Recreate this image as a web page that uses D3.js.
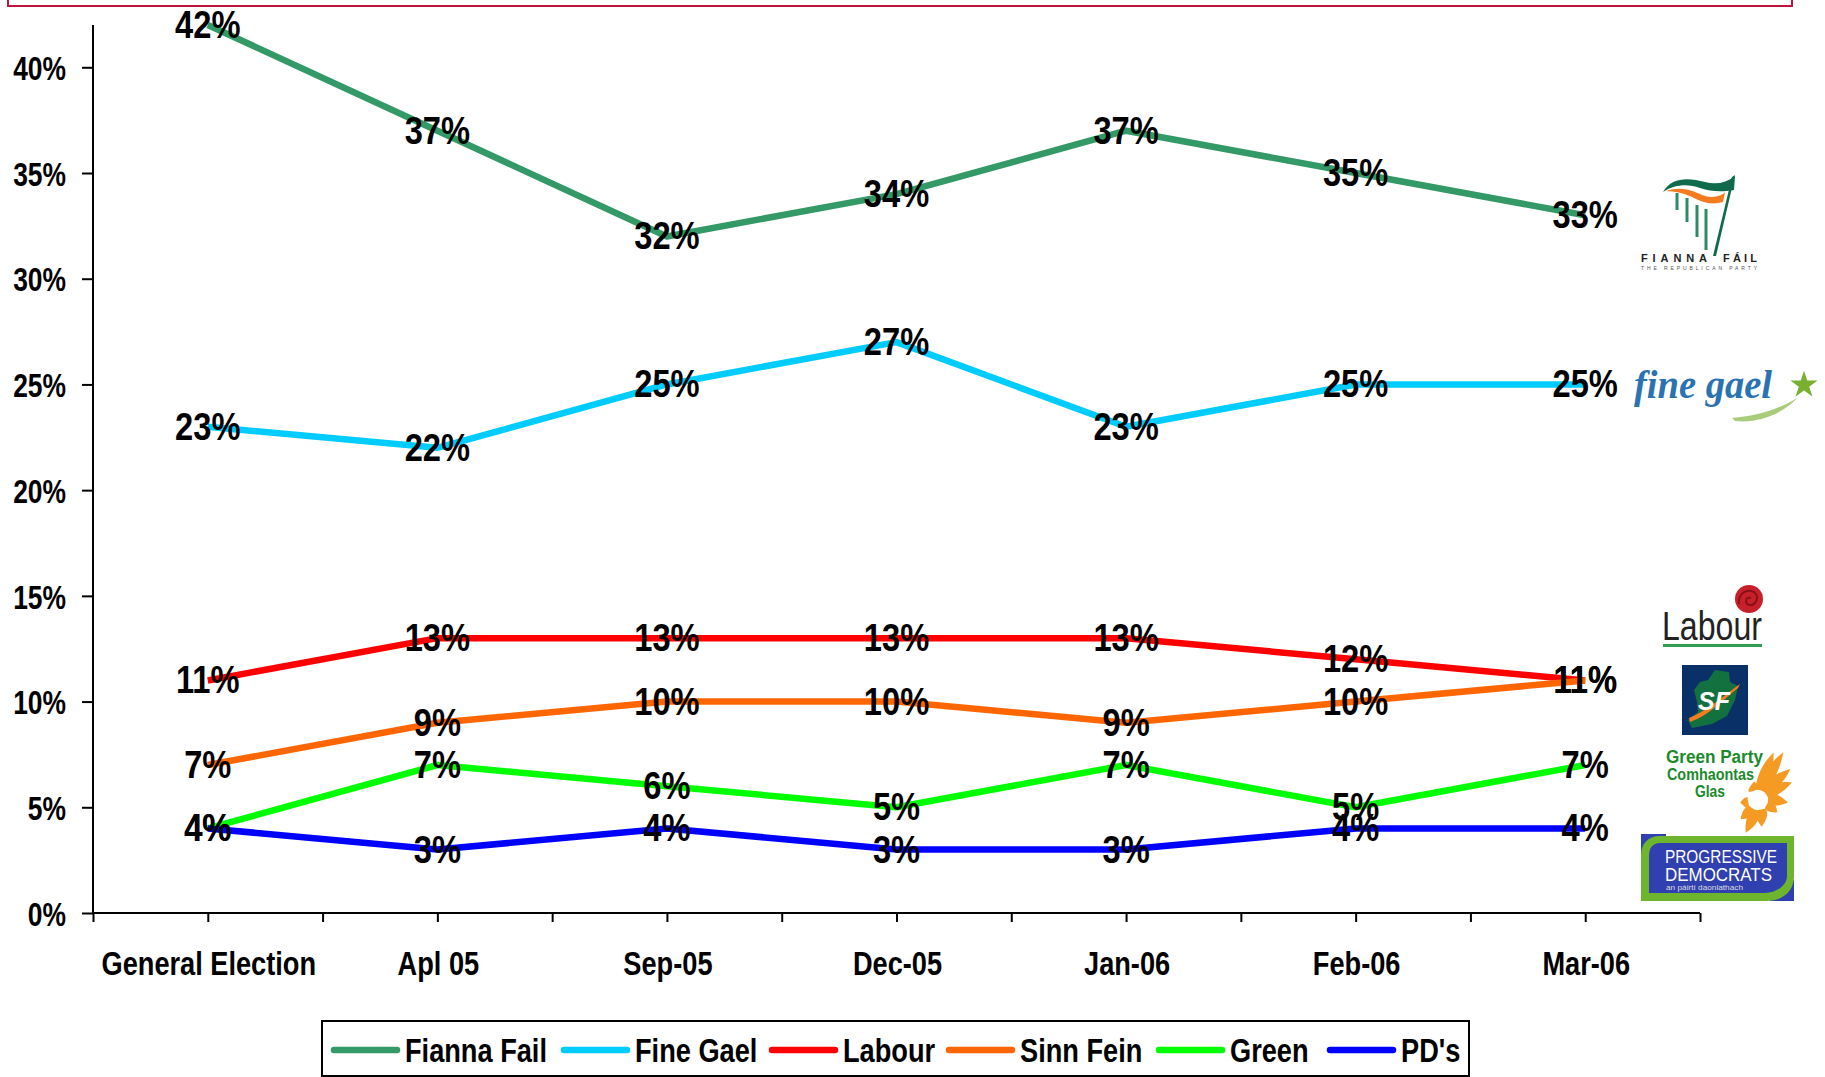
<!DOCTYPE html>
<html>
<head>
<meta charset="utf-8">
<script src="https://cdn.jsdelivr.net/npm/d3@7"></script>
<style>
  html, body { margin: 0; padding: 0; background: #fff; }
  svg { display: block; }
  text { font-family: "Liberation Sans", sans-serif; font-weight: bold; fill: #000; }
  .logo text { font-weight: normal; }
</style>
</head>
<body>
<svg id="chart" width="1825" height="1077"></svg>
<script>
const categories = ["General Election", "Apl 05", "Sep-05", "Dec-05", "Jan-06", "Feb-06", "Mar-06"];
const yTicks = [0, 5, 10, 15, 20, 25, 30, 35, 40];

const seriesNames = ["Fianna Fail", "Fine Gael", "Labour", "Sinn Fein", "Green", "PD's"];
const seriesColors = ["#339966", "#00ccff", "#ff0000", "#ff6600", "#00ff00", "#0000ff"];

const fiannaFail = [42, 37, 32, 34, 37, 35, 33];
const fineGael = [23, 22, 25, 27, 23, 25, 25];
const labour = [11, 13, 13, 13, 13, 12, 11];
const sinnFein = [7, 9, 10, 10, 9, 10, 11];
const green = [4, 7, 6, 5, 7, 5, 7];
const pds = [4, 3, 4, 3, 3, 4, 4];
const seriesValues = [fiannaFail, fineGael, labour, sinnFein, green, pds];

const svg = d3.select("#chart");
const padding = { left: 93, right: 1700, top: 25, bottom: 913 };

// no narrow font installed, so squeeze the text horizontally around its anchor
function condense(selection, sx) {
  selection.each(function () {
    const t = d3.select(this);
    const x = +t.attr("x") || 0;
    const y = +t.attr("y") || 0;
    t.attr("x", 0).attr("y", 0).attr("transform", `translate(${x}, ${y}) scale(${sx}, 1)`);
  });
}

// frame left over from the slide, only its bottom edge is in view
svg.append("rect")
  .attr("x", 8).attr("y", -20).attr("width", 1784).attr("height", 26)
  .attr("fill", "none").attr("stroke", "#c0143c").attr("stroke-width", 2);

const xScale = d3.scaleBand().domain(categories).range([padding.left, padding.right]).paddingInner(0).paddingOuter(0);
const xTickScale = d3.scaleLinear().domain([0, categories.length]).range([padding.left, padding.right]);
const yScale = d3.scaleLinear().domain([0, 42]).range([padding.bottom, padding.top]);
const xCenter = (i) => xScale(categories[i]) + xScale.bandwidth() / 2;

// y-axis
const yAxis = svg.append("g")
  .attr("transform", `translate(${padding.left}, 0)`)
  .call(d3.axisLeft(yScale).tickValues(yTicks).tickSize(11).tickPadding(16).tickFormat((d) => d + "%"));
yAxis.select(".domain").attr("stroke", "#000").attr("stroke-width", 2).attr("d", `M0,${padding.top}V${padding.bottom}`);
yAxis.selectAll("line").attr("stroke", "#000").attr("stroke-width", 2);
yAxis.selectAll("text").attr("font-size", 33).attr("dy", "0.37em").call(condense, 0.8);

// x-axis: tick marks every half category, labels from the band scale
const xAxis = svg.append("g")
  .attr("transform", `translate(0, ${padding.bottom})`)
  .call(d3.axisBottom(xTickScale).tickValues(d3.range(0, categories.length + 0.5, 0.5)).tickSize(9).tickFormat(""));
xAxis.select(".domain").attr("stroke", "#000").attr("stroke-width", 2).attr("d", `M${padding.left},0H${padding.right}`);
xAxis.selectAll("line").attr("stroke", "#000").attr("stroke-width", 2);

const xLabels = svg.append("g")
  .attr("transform", `translate(1, ${padding.bottom})`)
  .call(d3.axisBottom(xScale).tickSize(0).tickPadding(38));
xLabels.select(".domain").remove();
xLabels.selectAll("text").attr("font-size", 34).attr("dy", "0.71em").call(condense, 0.8);

// lines
const lineGenerator = d3.line()
  .x((d, i) => xCenter(i))
  .y((d) => yScale(d));

svg.append("g").selectAll("path")
  .data(seriesValues)
  .join("path")
  .attr("fill", "none")
  .attr("stroke", (d, i) => seriesColors[i])
  .attr("stroke-width", 6.5)
  .attr("stroke-linejoin", "round")
  .attr("d", (d) => lineGenerator(d));

// value labels sit on top of the lines
svg.append("g").selectAll("g")
  .data(seriesValues)
  .join("g")
  .selectAll("text")
  .data((d) => d)
  .join("text")
  .attr("x", (d, i) => xCenter(i))
  .attr("y", (d) => yScale(d))
  .attr("dy", "0.34em")
  .attr("text-anchor", "middle")
  .attr("font-size", 38)
  .text((d) => d + "%")
  .call(condense, 0.86);

// legend
const legendX = [331, 561, 769, 946, 1156, 1327];
const legend = svg.append("g");
legend.append("rect")
  .attr("x", 322).attr("y", 1021).attr("width", 1147).attr("height", 55)
  .attr("fill", "#fff").attr("stroke", "#000").attr("stroke-width", 2);
const legendItems = legend.selectAll("g")
  .data(seriesNames)
  .join("g")
  .attr("transform", (d, i) => `translate(${legendX[i]}, 1050)`);
legendItems.append("line")
  .attr("x1", 3).attr("x2", 66)
  .attr("stroke", (d, i) => seriesColors[i])
  .attr("stroke-width", 6.5)
  .attr("stroke-linecap", "round");
legendItems.append("text")
  .attr("x", 74).attr("dy", "0.36em")
  .attr("font-size", 34)
  .text((d) => d)
  .call(condense, 0.8);

// party logos
const logos = svg.append("g").attr("class", "logo");

function logoText(parent, str, x, y, size, fill, opts = {}) {
  return parent.append("text")
    .attr("x", x).attr("y", y)
    .attr("font-size", size)
    .style("fill", fill)
    .style("font-family", opts.family || '"Liberation Sans", sans-serif')
    .style("font-weight", opts.weight || "normal")
    .style("font-style", opts.style || "normal")
    .attr("text-anchor", opts.anchor || "start")
    .attr("textLength", opts.length || null)
    .attr("lengthAdjust", opts.length ? (opts.adjust || "spacingAndGlyphs") : null)
    .text(str);
}

// Fianna Fail
const ff = logos.append("g");
ff.append("path").attr("fill", "#0f6b4b")
  .attr("d", "M1663,192 C1672,176 1690,178 1705,182 C1716,185 1726,183 1735,176 L1734,190 C1722,192 1712,192 1700,188 C1688,184 1676,184 1663,192 Z");
ff.append("path").attr("fill", "#f47b20")
  .attr("d", "M1666,191 C1680,186 1692,190 1702,195 C1712,199 1722,196 1725,192 L1723,202 C1712,205 1703,203 1692,197 C1684,193 1674,191 1666,191 Z");
ff.append("path").attr("fill", "#0f6b4b").attr("d", "M1732,177 L1735,175 L1716,256 L1713,256 Z");
[[1677, 193, 210], [1687, 198, 222], [1697, 205, 237], [1706, 209, 250]].forEach(([x, y1, y2]) => {
  ff.append("line").attr("x1", x).attr("x2", x).attr("y1", y1).attr("y2", y2).attr("stroke", "#2f8a68").attr("stroke-width", 3);
});
logoText(ff, "FIANNA", 1641, 262, 11, "#222", { weight: "bold", length: 66, adjust: "spacing" });
logoText(ff, "FÁIL", 1723, 262, 11, "#222", { weight: "bold", length: 34, adjust: "spacing" });
logoText(ff, "THE REPUBLICAN PARTY", 1641, 270, 5, "#555", { length: 116, adjust: "spacing" });

// Fine Gael
const fg = logos.append("g");
logoText(fg, "fine gael", 1634, 398, 40, "#2a72b0", { family: '"Liberation Serif", serif', style: "italic", weight: "bold", length: 138 });
fg.append("path").attr("fill", "#a9cc7a")
  .attr("d", "M1732,418 C1755,416 1778,410 1797,398 C1785,412 1760,424 1735,421 Z");
fg.append("path").attr("fill", "#7ab030")
  .attr("d", d3.symbol(d3.symbolStar, 230)()).attr("transform", "translate(1804,385)");

// Labour
const lab = logos.append("g");
logoText(lab, "Labour", 1662, 640, 40, "#222", { length: 100 });
lab.append("rect").attr("x", 1663).attr("y", 644).attr("width", 99).attr("height", 3).attr("fill", "#2f9e50");
lab.append("circle").attr("cx", 1749).attr("cy", 599).attr("r", 14).attr("fill", "#c8202a");
lab.append("path").attr("fill", "none").attr("stroke", "#8a1018").attr("stroke-width", 2)
  .attr("d", "M1739,604 C1738,594 1746,588 1754,592 C1760,597 1756,606 1749,605 C1744,603 1746,596 1751,598");

// Sinn Fein
const sf = logos.append("g");
sf.append("rect").attr("x", 1682).attr("y", 665).attr("width", 66).attr("height", 70).attr("fill", "#0a3068");
sf.append("path").attr("fill", "#13703f")
  .attr("d", "M1715,670 L1729,672 L1730,682 L1738,686 L1735,700 L1727,716 L1712,724 L1692,728 L1688,720 L1698,712 L1697,702 L1694,690 L1700,682 L1708,680 Z");
sf.append("path").attr("fill", "#f47b20").attr("d", "M1689,718 C1705,712 1725,695 1740,684 L1738,688 C1725,698 1710,715 1690,722 Z");
logoText(sf, "SF", 1698, 710, 25, "#fff", { style: "italic", weight: "bold" });

// Green Party
const gp = logos.append("g");
logoText(gp, "Green Party", 1666, 763, 18, "#1a8a2a", { weight: "bold", length: 97 });
logoText(gp, "Comhaontas", 1667, 780, 17, "#1a8a2a", { weight: "bold", length: 87 });
logoText(gp, "Glas", 1710, 797, 17, "#1a8a2a", { weight: "bold", anchor: "middle", length: 30 });
const petalAngles = [-15, 17, 27, 45, 61, 93, 120, 170, 199, 220, 259];
const petalLengths = [19, 50, 54, 45, 38, 30, 23, 27, 35, 26, 18];
gp.selectAll("path").data(petalAngles).join("path")
  .attr("fill", "#f59a23")
  .attr("transform", (d) => `translate(1758,800) rotate(${d})`)
  .attr("d", (d, i) => {
    const r = petalLengths[i];
    return `M-6,-10 C-9,-${r * 0.6} -3,-${r * 0.85} 1,-${r} C5,-${r * 0.75} 6,-${r * 0.45} 3,-10 Z`;
  });

// Progressive Democrats
const pd = logos.append("g");
pd.append("rect").attr("x", 1641).attr("y", 834).attr("width", 25).attr("height", 20).attr("fill", "#3040b0");
pd.append("rect").attr("x", 1770).attr("y", 880).attr("width", 24).attr("height", 21).attr("fill", "#3040b0");
pd.append("path").attr("fill", "#6cb52d")
  .attr("d", "M1660,836 H1794 V876 C1794,892 1782,901 1766,901 H1641 V855 C1641,844 1648,836 1660,836 Z");
pd.append("path").attr("fill", "#3040b0")
  .attr("d", "M1660,843 H1787 V876 C1787,886 1775,893 1765,893 H1649 V856 C1649,848 1653,843 1660,843 Z");
logoText(pd, "PROGRESSIVE", 1665, 863, 18, "#fff", { length: 112 });
logoText(pd, "DEMOCRATS", 1665, 881, 18, "#fff", { length: 107 });
logoText(pd, "an páirtí daonlathach", 1666, 890, 7, "#ddd", { length: 77 });
</script>
</body>
</html>
